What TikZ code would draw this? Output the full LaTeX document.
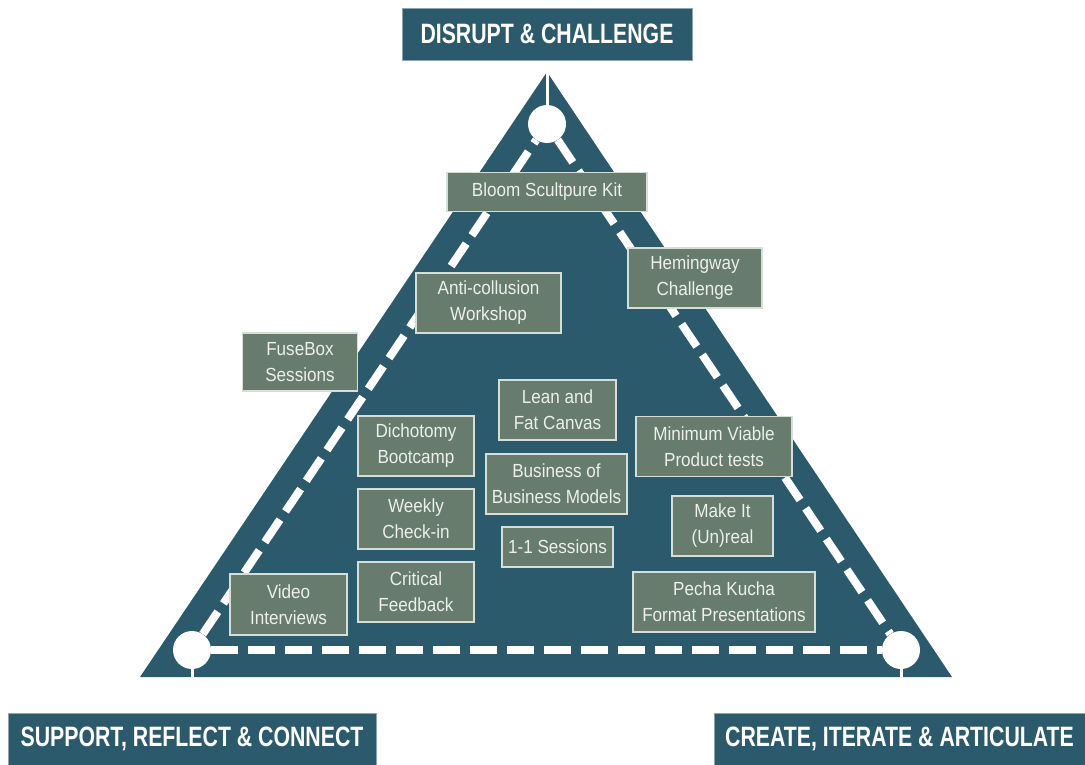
\documentclass[tikz,border=0pt]{standalone}
\usepackage{fontspec}
\usepackage{tikz}
\newfontfamily\labelfont[FakeStretch=0.9]{Liberation Sans}
\newfontfamily\headfont[FakeStretch=0.76]{Liberation Sans}
\definecolor{deepteal}{RGB}{44,90,109}
\definecolor{sage}{RGB}{103,124,108}
\definecolor{paletext}{RGB}{236,239,236}
\definecolor{edgegrey}{RGB}{214,222,216}
\definecolor{headedge}{RGB}{140,165,175}

\begin{document}
\begin{tikzpicture}[x=1pt, y=-1pt,
    heading/.style = {fill=deepteal, draw=headedge, line width=0.8pt, text=white,
        font=\headfont\bfseries\fontsize{28}{32}\selectfont, minimum height=52pt, inner sep=0pt},
    activity/.style = {fill=sage, draw=edgegrey, line width=1.4pt, text=paletext, align=center,
        font=\labelfont\fontsize{19}{26}\selectfont, minimum height=60pt, inner sep=0pt},
    hub/.style = {circle, fill=white, minimum size=38pt, inner sep=0pt},
    trail/.style = {white, line width=8pt, dash pattern=on 27pt off 10pt},
    stem/.style = {white, line width=3pt}]
    \useasboundingbox (0,0) rectangle (1085,765);
    \coordinate (apex) at (547,72);
    \coordinate (left) at (140,677);
    \coordinate (right) at (952,677);
    \fill[deepteal] (apex) -- (left) -- (right) -- cycle;
    \node[hub] (top) at (547,124) {};
    \node[hub] (sup) at (192,650) {};
    \node[hub] (cre) at (901,650) {};
    \draw[stem] (top.north) -- (apex);
    \draw[stem] (sup.south) -- (sup |- left);
    \draw[stem] (cre.south) -- (cre |- right);
    \draw[trail] (sup) -- (top);
    \draw[trail] (top) -- (cre);
    \draw[trail] (sup) -- (cre);
    \node[heading, minimum width=290pt] (disrupt) at (547,34) {DISRUPT \& CHALLENGE};
    \node[heading, minimum width=368pt] (support) at (192,739) {SUPPORT, REFLECT \& CONNECT};
    \node[heading, minimum width=371pt] (create) at (899.5,739) {CREATE, ITERATE \& ARTICULATE};
    \node[activity, minimum width=200pt, minimum height=39pt] (bloom) at (547,192) {Bloom Scultpure Kit};
    \node[activity, minimum width=134pt] (hemingway) at (695,278) {Hemingway\\Challenge};
    \node[activity, minimum width=145pt] (collusion) at (488.5,303) {Anti-collusion\\Workshop};
    \node[activity, minimum width=115pt, minimum height=58pt] (fusebox) at (300,362) {FuseBox\\Sessions};
    \node[activity, minimum width=117pt] (canvas) at (557.5,410) {Lean and\\Fat Canvas};
    \node[activity, minimum width=116pt] (dichotomy) at (416,446) {Dichotomy\\Bootcamp};
    \node[activity, minimum width=156pt] (mvp) at (714,446.5) {Minimum Viable\\Product tests};
    \node[activity, minimum width=141pt] (bizmodels) at (556.5,484) {Business of\\Business Models};
    \node[activity, minimum width=116pt] (checkin) at (416,519) {Weekly\\Check-in};
    \node[activity, minimum width=111pt, minimum height=40pt] (oneone) at (557.5,547) {1-1 Sessions};
    \node[activity, minimum width=101pt] (unreal) at (722.5,526) {Make It\\(Un)real};
    \node[activity, minimum width=116pt] (feedback) at (416,592) {Critical\\Feedback};
    \node[activity, minimum width=182pt] (pecha) at (724,602) {Pecha Kucha\\Format Presentations};
    \node[activity, minimum width=117pt, minimum height=61pt] (video) at (288.5,604.5) {Video\\Interviews};
\end{tikzpicture}
\end{document}
